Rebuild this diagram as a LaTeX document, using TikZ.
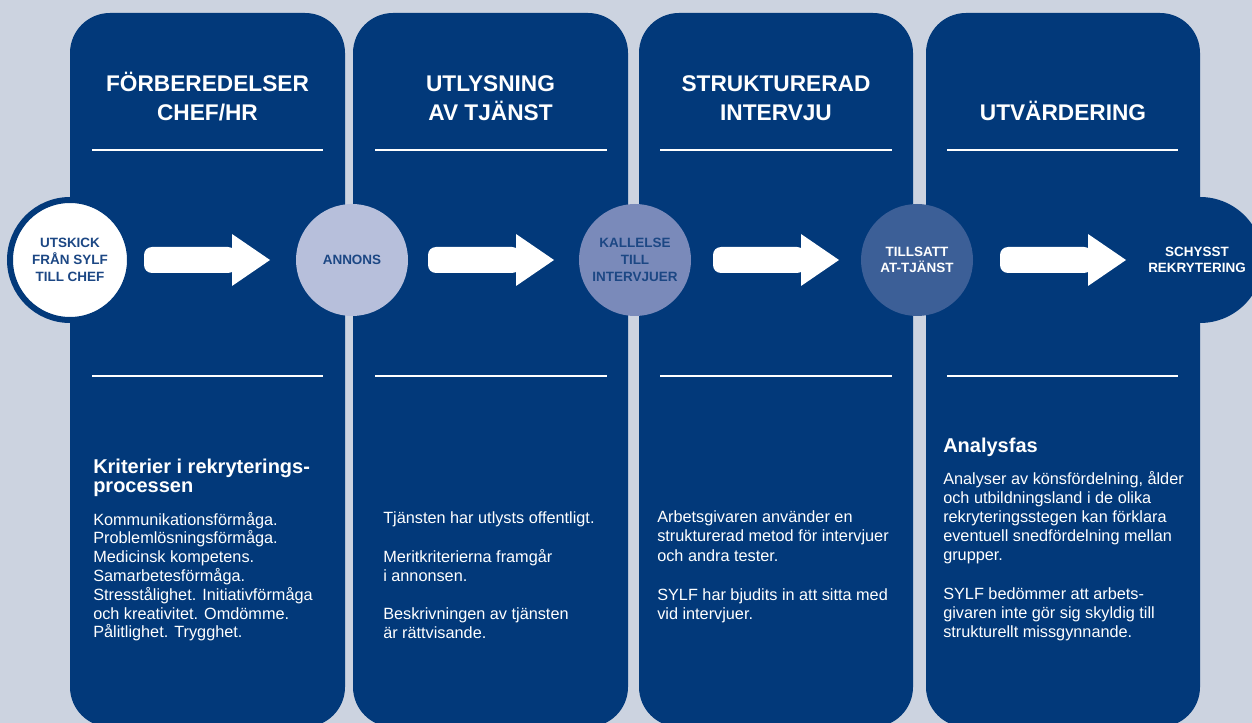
\documentclass[tikz,border=0pt]{standalone}
\usepackage{fontspec}
\setmainfont{Liberation Sans}
\definecolor{bg}{HTML}{CCD3E0}
\definecolor{navy}{HTML}{02397A}
\definecolor{lav}{HTML}{B7BFDB}
\definecolor{midblue}{HTML}{7A8ABA}
\definecolor{steel}{HTML}{3C5F97}
\definecolor{ctext}{HTML}{1C4784}
\tikzset{
  panel/.style={fill=navy, rounded corners=30pt},
  rule/.style={white, line width=1.1pt},
  title/.style={text=white, font=\bfseries\fontsize{17}{20}\selectfont, anchor=base, inner sep=0},
  body/.style={text=white, font=\fontsize{12.2}{14}\selectfont, anchor=base west, inner sep=0},
  head/.style={text=white, font=\bfseries\fontsize{15}{18}\selectfont, anchor=base west, inner sep=0},
  stage/.style={circle, minimum size=84pt, inner sep=0, align=center, font=\bfseries\fontsize{10.1}{12.5}\selectfont},
  bigarrow/.pic={
    \fill[white, rounded corners=6pt] (0,-13) rectangle (92,13);
    \fill[white] (88,-26) -- (126,0) -- (88,26) -- cycle;
  }
}
\begin{document}
\begin{tikzpicture}[x=0.75pt,y=-0.75pt]
\useasboundingbox (0,0) rectangle (1252,723);
\fill[bg] (0,0) rectangle (1252,723);
\clip (0,0) rectangle (1252,723);
% panels
\fill[panel] (70,13) rectangle (345,727);
\fill[panel] (353,13) rectangle (628,727);
\fill[panel] (639,13) rectangle (913,727);
\fill[panel] (926,13) rectangle (1200,727);
% rules
\draw[rule] (92,150) -- (323,150);
\draw[rule] (375,150) -- (607,150);
\draw[rule] (660,150) -- (892,150);
\draw[rule] (947,150) -- (1178,150);
\draw[rule] (92,376) -- (323,376);
\draw[rule] (375,376) -- (607,376);
\draw[rule] (660,376) -- (892,376);
\draw[rule] (947,376) -- (1178,376);
% titles
\node[title] (t1a) at (207.5,92) {FÖRBEREDELSER};
\node[title] (t1b) at (207.5,121) {CHEF/HR};
\node[title] (t2a) at (490.5,92) {UTLYSNING};
\node[title] (t2b) at (490.5,121) {AV TJÄNST};
\node[title] (t3a) at (776,92) {STRUKTURERAD};
\node[title] (t3b) at (776,121) {INTERVJU};
\node[title] (t4a) at (1063,121) {UTVÄRDERING};
% stage circles
\node[stage, fill=white, draw=navy, line width=4.5pt, minimum size=90pt, text=ctext] (c1) at (70,260) {UTSKICK\\FRÅN SYLF\\TILL CHEF};
\node[stage, fill=lav, text=ctext] (c2) at (352,260) {ANNONS};
\node[stage, fill=midblue, text=ctext] (c3) at (635,260) {KALLELSE\\TILL\\INTERVJUER};
\node[stage, fill=steel, text=white] (c4) at (917,260) {TILLSATT\\AT-TJÄNST};
\node[circle, fill=navy, minimum size=94.5pt, inner sep=0] (c5) at (1200,260) {};
\node[stage, minimum size=0pt, text=white] (c5t) at (1197,260) {SCHYSST\\REKRYTERING};
% arrows
\pic at (144,260) {bigarrow};
\pic at (428,260) {bigarrow};
\pic at (713,260) {bigarrow};
\pic at (1000,260) {bigarrow};
% panel 1 text
\node[head] (h1a) at (93,473) {Kriterier i rekryterings-};
\node[head] (h1b) at (93,492) {processen};
\foreach \t [count=\i from 0] in {Kommunikationsförmåga., Problemlösningsförmåga., Medicinsk kompetens., Samarbetesförmåga., Stresstålighet. Initiativförmåga, och kreativitet. Omdömme., Pålitlighet. Trygghet.}
  \node[body] (b1-\i) at (93,525+18.8*\i) {\t};
% panel 2 text
\foreach \yy/\t in {523/Tjänsten har utlysts offentligt., 562/Meritkriterierna framgår, 581/i annonsen., 619/Beskrivningen av tjänsten, 638/är rättvisande.}
  \node[body] (b2-\yy) at (383,\yy) {\t};
% panel 3 text
\foreach \yy/\t in {522/Arbetsgivaren använder en, 541/strukturerad metod för intervjuer, 561/och andra tester., 600/SYLF har bjudits in att sitta med, 619/vid intervjuer.}
  \node[body] (b3-\yy) at (657,\yy) {\t};
% panel 4 text
\node[head] (h4) at (943,452) {Analysfas};
\foreach \yy/\t in {484/{Analyser av könsfördelning, ålder}, 503/och utbildningsland i de olika, 522/rekryteringsstegen kan förklara, 541/eventuell snedfördelning mellan, 560/grupper., 599/SYLF bedömmer att arbets-, 618/givaren inte gör sig skyldig till, 637/strukturellt missgynnande.}
  \node[body] (b4-\yy) at (943,\yy) {\t};
\end{tikzpicture}
\end{document}
